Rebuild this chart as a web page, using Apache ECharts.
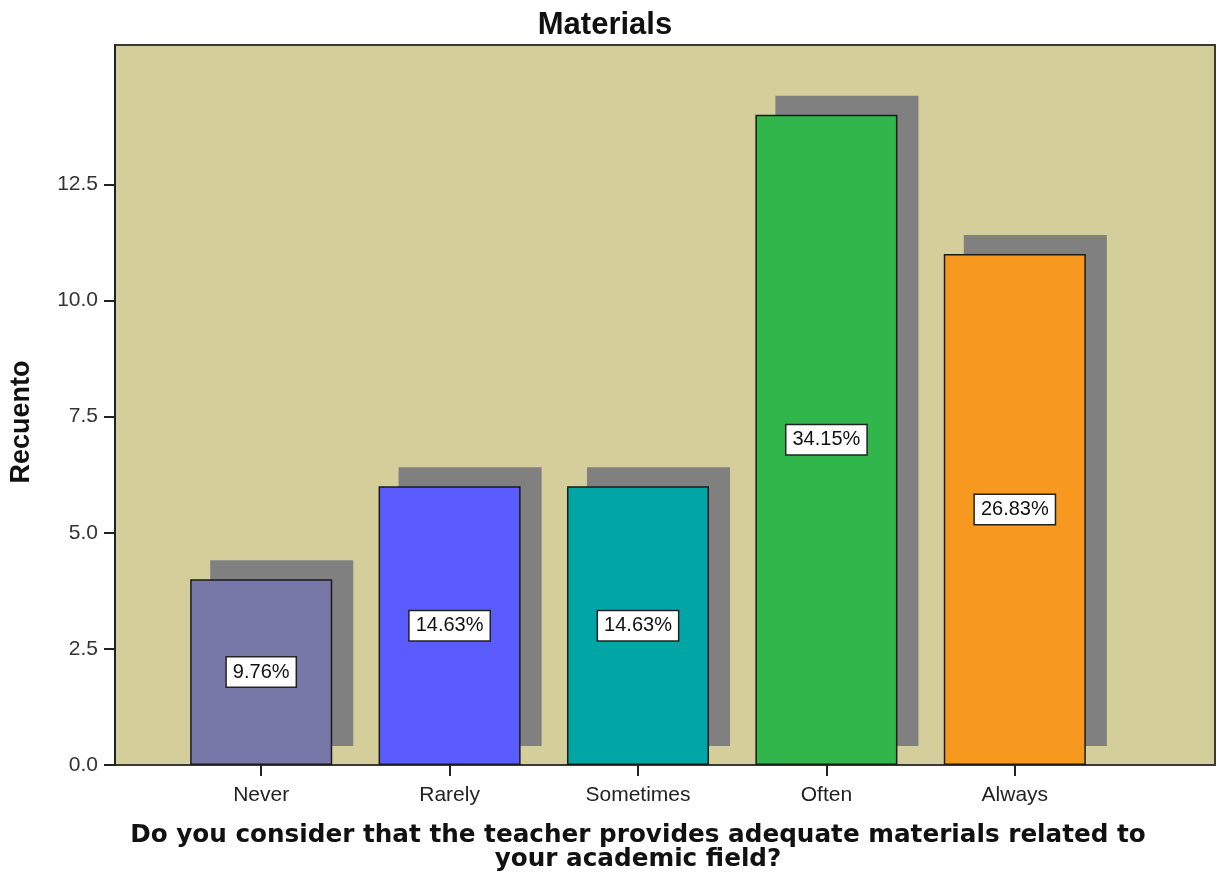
<!DOCTYPE html>
<html>
<head>
<meta charset="utf-8">
<script src="https://cdn.jsdelivr.net/npm/echarts@6/dist/echarts.min.js"></script>
<style>html,body{margin:0;padding:0;background:#fff;}#c{width:1217px;height:877px;}</style>
</head>
<body>
<div id="c"></div>
<script>
const categories = ['Never', 'Rarely', 'Sometimes', 'Often', 'Always'];
const counts = [4, 6, 6, 14, 11];
const percents = ['9.76%', '14.63%', '14.63%', '34.15%', '26.83%'];
const barColors = ['#7878a8', '#5b5cff', '#00a6a6', '#30b64a', '#f7991f'];
const yTicks = [0, 2.5, 5, 7.5, 10, 12.5];

const chart = echarts.init(document.getElementById('c'), null, {renderer: 'canvas'});
const FONT = 'Liberation Sans, Arial, sans-serif';
const yMin = 0, yMax = 15.5;
const BAR_RATIO = 0.754;

chart.setOption({
  animation: false,
  backgroundColor: '#ffffff',
  title: {
    text: 'Materials',
    left: 600, top: 5, textAlign: 'center',
    textStyle: {fontFamily: FONT, fontWeight: 'bold', fontSize: 31, color: '#111'}
  },
  grid: [
    {left: 115, top: 45, width: 1100, height: 720, show: true, outerBoundsMode: 'none', containLabel: false,
     backgroundColor: '#d4cf9a', borderColor: '#3a3a30', borderWidth: 2},
    {left: 167, top: 45, width: 942, height: 720, outerBoundsMode: 'none', containLabel: false}
  ],
  xAxis: [
    {gridIndex: 0, type: 'value', show: false, min: 0, max: 1},
    {gridIndex: 1, type: 'category', data: categories,
     axisLine: {show: false},
     axisTick: {show: true, alignWithLabel: true, length: 11, lineStyle: {color: '#222', width: 2}},
     axisLabel: {fontFamily: FONT, fontSize: 21, color: '#222', margin: 20},
     name: 'Do you consider that the teacher provides adequate materials related to\nyour academic field?',
     nameLocation: 'middle', nameGap: 59,
     nameTextStyle: {fontFamily: 'DejaVu Sans, Verdana, sans-serif', fontWeight: 'bold', fontSize: 24.7,
       color: '#111', lineHeight: 24, align: 'center'}}
  ],
  yAxis: [
    {gridIndex: 0, type: 'value', min: yMin, max: yMax,
     axisLine: {show: true, lineStyle: {color: '#222', width: 2}},
     axisTick: {show: true, length: 11, customValues: yTicks, lineStyle: {color: '#222', width: 2}},
     axisLabel: {customValues: yTicks, fontFamily: FONT, fontSize: 21, color: '#333', margin: 17,
       formatter: v => v.toFixed(1)},
     splitLine: {show: false},
     name: 'Recuento', nameLocation: 'middle', nameGap: 80, nameRotate: 90,
     nameTextStyle: {fontFamily: FONT, fontWeight: 'bold', fontSize: 27, color: '#111', padding: [0, 34, 0, 0]}},
    {gridIndex: 1, type: 'value', min: yMin, max: yMax, show: false}
  ],
  series: [{
    type: 'custom',
    xAxisIndex: 1, yAxisIndex: 1,
    silent: true,
    data: counts.map((v, i) => [i, v]),
    renderItem: (params, api) => {
      const i = api.value(0), v = api.value(1);
      const top = api.coord([i, v]);
      const base = api.coord([i, 0]);
      const bw = api.size([1, 0])[0] * BAR_RATIO;
      return {
        type: 'rect',
        shape: {x: top[0] - bw / 2 + 20, y: top[1] - 19, width: bw + 1, height: base[1] - top[1]},
        style: {fill: '#808080'}
      };
    }
  }, {
    type: 'bar',
    xAxisIndex: 1, yAxisIndex: 1,
    barWidth: (BAR_RATIO * 100) + '%',
    data: counts.map((v, i) => ({value: v, itemStyle: {color: barColors[i]}})),
    itemStyle: {borderColor: '#1a1a1a', borderWidth: 1.5},
    label: {
      show: true, position: 'inside',
      formatter: p => percents[p.dataIndex],
      fontFamily: FONT, fontSize: 20, color: '#111',
      backgroundColor: '#ffffff', borderColor: '#222', borderWidth: 1.5,
      padding: [5, 6, 4, 6]
    }
  }]
});
</script>
</body>
</html>
